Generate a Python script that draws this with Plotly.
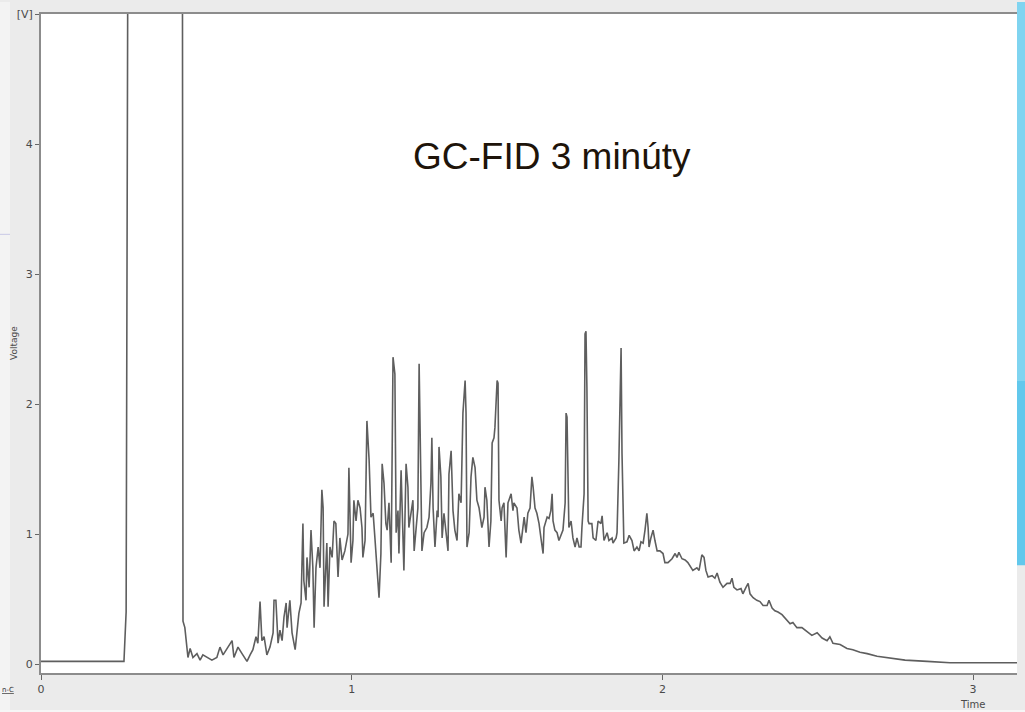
import plotly.graph_objects as go

# Chromatogram (time in minutes, signal in volts)
time_min = [
    0.000, 0.267, 0.274, 0.280, 0.455, 0.457, 0.463, 0.470, 0.473, 0.480,
    0.489, 0.502, 0.512, 0.521, 0.534, 0.550, 0.566, 0.576, 0.586, 0.599,
    0.608, 0.615, 0.621, 0.634, 0.647, 0.663, 0.673, 0.682, 0.692, 0.698,
    0.705, 0.711, 0.718, 0.727, 0.737, 0.747, 0.750, 0.756, 0.763, 0.769,
    0.776, 0.782, 0.789, 0.792, 0.801, 0.808, 0.818, 0.824, 0.830, 0.837,
    0.843, 0.846, 0.853, 0.856, 0.863, 0.869, 0.875, 0.879, 0.885, 0.892,
    0.898, 0.904, 0.908, 0.911, 0.920, 0.924, 0.930, 0.937, 0.943, 0.949,
    0.956, 0.962, 0.969, 0.978, 0.988, 0.991, 0.998, 1.004, 1.007, 1.014,
    1.020, 1.027, 1.033, 1.036, 1.043, 1.049, 1.056, 1.062, 1.069, 1.075,
    1.081, 1.088, 1.094, 1.098, 1.104, 1.110, 1.114, 1.120, 1.127, 1.130,
    1.133, 1.139, 1.143, 1.149, 1.152, 1.159, 1.162, 1.168, 1.175, 1.181,
    1.184, 1.191, 1.197, 1.201, 1.207, 1.213, 1.217, 1.223, 1.226, 1.233,
    1.242, 1.249, 1.255, 1.258, 1.262, 1.268, 1.275, 1.278, 1.281, 1.287,
    1.291, 1.297, 1.304, 1.310, 1.313, 1.320, 1.326, 1.332, 1.339, 1.345,
    1.352, 1.355, 1.358, 1.365, 1.368, 1.371, 1.378, 1.384, 1.390, 1.397,
    1.403, 1.410, 1.419, 1.426, 1.429, 1.435, 1.442, 1.448, 1.452, 1.458,
    1.461, 1.468, 1.471, 1.474, 1.481, 1.484, 1.490, 1.497, 1.503, 1.506,
    1.513, 1.519, 1.522, 1.532, 1.538, 1.545, 1.551, 1.555, 1.561, 1.567,
    1.574, 1.580, 1.584, 1.590, 1.596, 1.603, 1.609, 1.616, 1.619, 1.629,
    1.635, 1.641, 1.645, 1.648, 1.654, 1.661, 1.667, 1.674, 1.680, 1.687,
    1.690, 1.693, 1.696, 1.699, 1.706, 1.712, 1.719, 1.725, 1.732, 1.738,
    1.741, 1.748, 1.751, 1.754, 1.757, 1.761, 1.764, 1.773, 1.777, 1.786,
    1.793, 1.802, 1.806, 1.812, 1.822, 1.828, 1.838, 1.841, 1.851, 1.854,
    1.860, 1.864, 1.867, 1.870, 1.876, 1.886, 1.893, 1.902, 1.909, 1.918,
    1.925, 1.931, 1.938, 1.944, 1.950, 1.954, 1.957, 1.963, 1.970, 1.976,
    1.983, 1.992, 2.002, 2.008, 2.018, 2.031, 2.041, 2.047, 2.053, 2.063,
    2.073, 2.082, 2.092, 2.098, 2.111, 2.118, 2.127, 2.134, 2.140, 2.147,
    2.160, 2.169, 2.176, 2.185, 2.195, 2.208, 2.218, 2.224, 2.230, 2.240,
    2.253, 2.259, 2.269, 2.276, 2.282, 2.292, 2.304, 2.314, 2.324, 2.337,
    2.343, 2.353, 2.362, 2.372, 2.385, 2.395, 2.411, 2.420, 2.433, 2.449,
    2.465, 2.481, 2.498, 2.514, 2.530, 2.539, 2.549, 2.572, 2.594, 2.613,
    2.636, 2.659, 2.691, 2.723, 2.755, 2.781, 2.852, 2.926, 3.151,
]

voltage = [
    0.02, 0.02, 0.40, 6.00, 6.00, 0.33, 0.28, 0.13, 0.05, 0.12,
    0.05, 0.08, 0.03, 0.07, 0.05, 0.03, 0.05, 0.13, 0.07, 0.12,
    0.15, 0.18, 0.05, 0.13, 0.08, 0.02, 0.07, 0.11, 0.21, 0.16,
    0.48, 0.18, 0.21, 0.07, 0.13, 0.24, 0.49, 0.49, 0.16, 0.26,
    0.18, 0.36, 0.47, 0.28, 0.49, 0.24, 0.11, 0.28, 0.39, 0.47,
    1.08, 0.64, 0.49, 0.82, 0.59, 1.03, 0.74, 0.28, 0.74, 0.90,
    0.74, 1.34, 1.20, 0.44, 0.93, 0.44, 0.90, 0.82, 1.10, 1.08,
    0.67, 0.97, 0.80, 0.87, 1.00, 1.51, 0.78, 0.95, 1.26, 1.10,
    1.26, 1.20, 1.05, 0.82, 0.95, 1.87, 1.57, 1.13, 1.16, 0.96,
    0.74, 0.51, 0.85, 1.54, 1.39, 1.08, 1.03, 1.24, 0.78, 1.95,
    2.36, 2.23, 1.01, 1.18, 0.85, 1.49, 1.18, 0.72, 1.54, 1.36,
    1.05, 1.16, 1.26, 0.87, 1.01, 1.20, 2.31, 1.31, 0.87, 1.01,
    1.05, 1.13, 1.39, 1.74, 1.20, 0.90, 1.18, 1.13, 1.67, 1.44,
    0.97, 1.16, 1.01, 0.87, 1.46, 1.64, 1.18, 1.03, 0.95, 1.31,
    1.24, 1.57, 1.93, 2.18, 1.93, 0.90, 1.01, 1.44, 1.59, 1.51,
    1.26, 1.20, 1.05, 1.13, 1.36, 1.26, 0.90, 1.10, 1.70, 1.74,
    1.82, 2.18, 2.16, 1.26, 1.10, 1.20, 1.24, 0.82, 1.24, 1.26,
    1.31, 1.18, 1.24, 1.20, 1.03, 0.93, 1.05, 1.13, 1.01, 1.16,
    1.20, 1.44, 1.36, 1.20, 1.16, 1.08, 0.97, 0.85, 1.05, 1.13,
    1.12, 1.18, 1.31, 1.10, 1.03, 1.01, 0.95, 0.99, 1.03, 1.24,
    1.93, 1.90, 1.36, 1.05, 1.10, 0.97, 0.90, 0.97, 0.90, 0.90,
    1.05, 1.31, 2.54, 2.56, 2.13, 1.10, 1.08, 1.08, 0.97, 0.95,
    1.10, 1.08, 1.14, 0.95, 1.01, 0.95, 0.97, 0.93, 0.97, 1.01,
    1.57, 2.26, 2.43, 1.62, 0.93, 0.94, 0.99, 0.95, 0.87, 0.90,
    0.87, 0.94, 0.93, 1.03, 1.16, 1.05, 0.90, 0.97, 1.03, 0.95,
    0.87, 0.87, 0.85, 0.78, 0.78, 0.81, 0.85, 0.82, 0.86, 0.81,
    0.80, 0.78, 0.74, 0.72, 0.74, 0.72, 0.84, 0.82, 0.72, 0.67,
    0.68, 0.66, 0.70, 0.63, 0.59, 0.62, 0.62, 0.66, 0.59, 0.57,
    0.58, 0.54, 0.59, 0.62, 0.54, 0.51, 0.49, 0.48, 0.45, 0.45,
    0.49, 0.43, 0.41, 0.40, 0.38, 0.35, 0.31, 0.32, 0.28, 0.28,
    0.25, 0.22, 0.24, 0.20, 0.18, 0.21, 0.16, 0.15, 0.12, 0.11,
    0.09, 0.08, 0.06, 0.05, 0.04, 0.03, 0.02, 0.01, 0.01,
]

x_ticks = [0, 1, 2, 3]
y_ticks = [0, 1, 2, 3, 4, 5]
y_tick_text = ["0", "1", "2", "3", "4", "[V]"]
title_text = "GC-FID 3 minúty"
x_label = "Time"
y_label = "Voltage"

W, H = 1025, 712
ML, MR, MT, MB = 41, 8, 12, 39
PW, PH = W - ML - MR, H - MT - MB


def px(xp):
    return (xp - ML) / PW


def py(yp):
    return (H - MB - yp) / PH


fig = go.Figure()
fig.add_trace(go.Scatter(
    x=time_min, y=voltage, mode="lines",
    line=dict(color="#5e5e5e", width=1.6),
    hoverinfo="skip", showlegend=False,
))

axis_font = dict(family="DejaVu Sans, Liberation Sans, sans-serif", size=11, color="#4a4a4a")

fig.update_layout(
    width=W, height=H,
    margin=dict(l=ML, r=MR, t=MT, b=MB, pad=0),
    paper_bgcolor="#ebebeb",
    plot_bgcolor="#ffffff",
    showlegend=False,
    xaxis=dict(
        range=[0, PW / 310.7],
        tickvals=x_ticks, ticktext=[str(v) for v in x_ticks],
        showgrid=False, zeroline=False,
        showline=True, linecolor="#8c8c8c", linewidth=2, mirror=True,
        ticks="outside", ticklen=5, tickcolor="#666", tickwidth=1,
        tickfont=axis_font,
    ),
    yaxis=dict(
        range=[-9 / 130.3, 5.0],
        tickvals=y_ticks, ticktext=y_tick_text,
        showgrid=False, zeroline=False,
        showline=True, linecolor="#8c8c8c", linewidth=2,
        ticks="outside", ticklen=4, tickcolor="#666", tickwidth=1,
        tickfont=axis_font,
    ),
    annotations=[
        dict(text=title_text, xref="paper", yref="paper", x=px(552), y=py(155),
             xanchor="center", yanchor="middle", showarrow=False,
             font=dict(family="Liberation Sans, Arial, sans-serif", size=37, color="#1e140a")),
        dict(text=y_label, xref="paper", yref="paper", x=px(14), y=py(342),
             xanchor="center", yanchor="middle", showarrow=False, textangle=-90,
             font=dict(family="DejaVu Sans, sans-serif", size=9, color="#4a4a4a")),
        dict(text=x_label, xref="paper", yref="paper", x=px(972), y=py(705),
             xanchor="center", yanchor="middle", showarrow=False,
             font=dict(family="DejaVu Sans, sans-serif", size=10, color="#4a4a4a")),
        dict(text="<u>n-C</u>", xref="paper", yref="paper", x=px(0), y=py(690),
             xanchor="left", yanchor="middle", showarrow=False,
             font=dict(family="DejaVu Sans, sans-serif", size=7, color="#333")),
    ],
    shapes=[
        dict(type="rect", xref="paper", yref="paper", x0=px(0), x1=px(10), y0=py(712), y1=py(0),
             fillcolor="#f3f3f3", line=dict(width=0), layer="below"),
        dict(type="rect", xref="paper", yref="paper", x0=px(0), x1=px(1025), y0=py(712), y1=py(710),
             fillcolor="#f6f6f6", line=dict(width=0), layer="below"),
        dict(type="line", xref="paper", yref="paper", x0=px(0), x1=px(10), y0=py(233), y1=py(233),
             line=dict(color="#c9c9e6", width=1)),
        dict(type="rect", xref="paper", yref="paper", x0=px(1017), x1=px(1026), y0=py(380), y1=py(0),
             fillcolor="#80d4f0", line=dict(width=0), layer="above"),
        dict(type="rect", xref="paper", yref="paper", x0=px(1017), x1=px(1026), y0=py(565), y1=py(380),
             fillcolor="#62c8ec", line=dict(width=0), layer="above"),
    ],
)

fig.write_html("out.html")
